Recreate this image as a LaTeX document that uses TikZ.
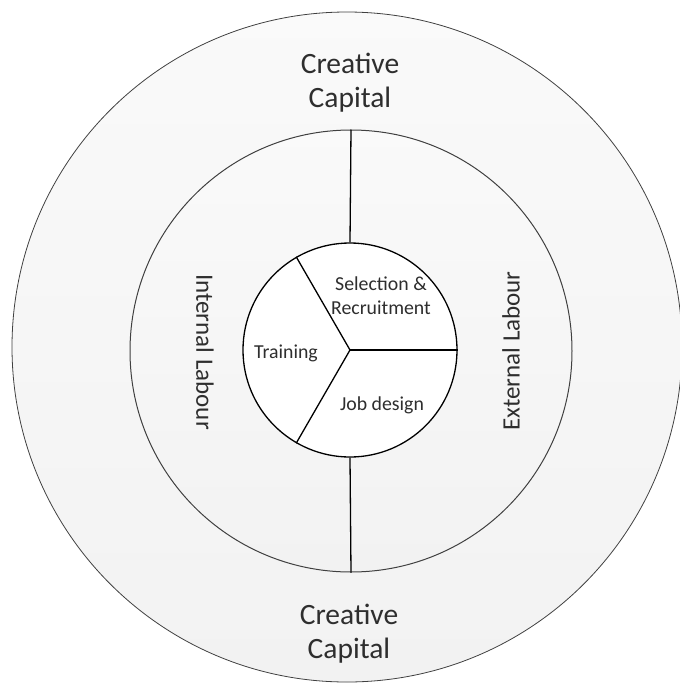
\documentclass[tikz,border=0pt]{standalone}
\usepackage{fontspec}
\setmainfont{Carlito}
\definecolor{txt}{HTML}{2E2E2E}
\definecolor{ringfill}{HTML}{F2F2F2}
\begin{document}
\begin{tikzpicture}[x=1pt,y=-1pt,
  ring/.style={circle,draw=black!75,inner sep=0pt,shade,top color=white!60!ringfill,bottom color=ringfill},
  core/.style={circle,draw=black,line width=1.3pt,fill=white,inner sep=0pt},
  spoke/.style={draw=black,line width=1.3pt},
  big/.style={text=txt,align=center,font=\fontsize{29.5}{34}\selectfont},
  side/.style={text=txt,font=\fontsize{25}{28}\selectfont},
  small/.style={text=txt,align=center,font=\fontsize{19.8}{24}\selectfont}]
\useasboundingbox (0,0) rectangle (680,686);
\node[ring,line width=0.8pt,minimum size=670pt] (outer) at (347,347) {};
\node[ring,line width=1pt,minimum size=442pt] (mid) at (351,351) {};
\node[core,minimum size=214pt] (in) at (350,350) {};
\draw[spoke] (in.center) -- (in.0);
\draw[spoke] (in.center) -- (in.120);
\draw[spoke] (in.center) -- (in.240);
\draw[spoke] (in.north) -- (mid.north);
\draw[spoke] (in.south) -- (mid.south);
\node[big] (cctop) at (350,83) {Creative\\Capital};
\node[big] (ccbot) at (349,634) {Creative\\Capital};
\node[side,rotate=-90] (intl) at (205,352) {Internal Labour};
\node[side,rotate=90] (extl) at (511,351) {External Labour};
\node[small] (sel) at (381,296) {Selection \&\\Recruitment};
\node[small] (tr) at (286,353) {Training};
\node[small] (job) at (382,405) {Job design};
\end{tikzpicture}
\end{document}
